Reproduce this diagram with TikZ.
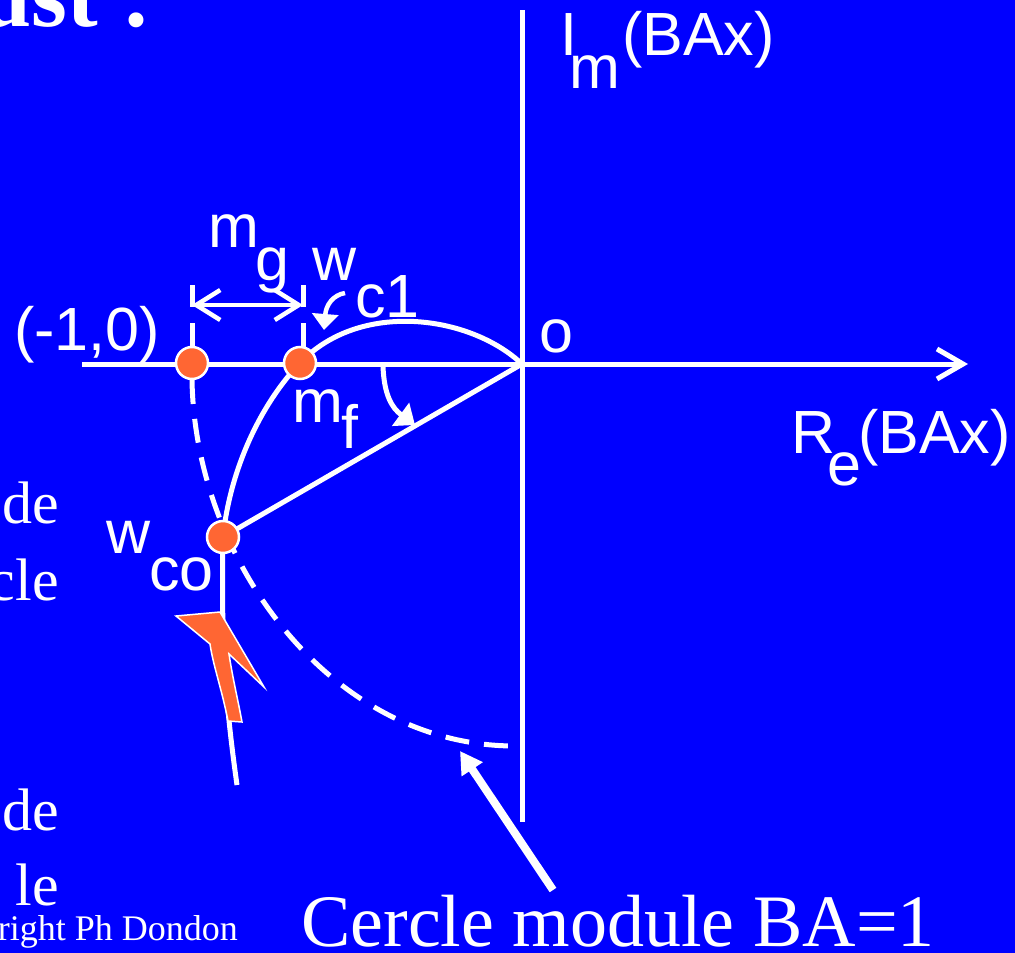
\documentclass[tikz,border=0pt]{standalone}
\usepackage{fontspec}
\setmainfont{Liberation Serif}
\newfontfamily\arial{Liberation Sans}
\usetikzlibrary{arrows.meta}
\definecolor{bg}{RGB}{0,0,255}
\definecolor{dotc}{RGB}{255,102,51}
\begin{document}
\begin{tikzpicture}[x=1pt,y=-1pt,
  wl/.style={white,line width=5pt},
  lbl/.style={inner sep=0,anchor=base west,text=white,font=\arial\fontsize{61}{63}\selectfont},
  ser/.style={inner sep=0,text=white,font=\fontsize{60}{62}\selectfont},
  dotn/.style={circle,fill=dotc,draw=white,line width=2.5pt,minimum size=32pt,inner sep=0},
  dashc/.style={white,line width=5pt,dash pattern=on 24pt off 15pt}]
\useasboundingbox (0,0) rectangle (1015,953);
\fill[bg] (0,0) rectangle (1015,953);

% coordinates
\coordinate (O) at (522,364);
\coordinate (xl) at (82,364);
\coordinate (xr) at (968,364);
\coordinate (yt) at (522,10);
\coordinate (yb) at (522,822);

% axes
\draw[wl] (yt) -- (yb);
\draw[wl,-{Straight Barb[length=26pt,width=30pt,line width=5pt]}] (xl) -- (xr);

% dashed unit circle
\draw[dashc] (192,380) .. controls (195,560) and (330,746) .. (515,746);

% Nyquist curve
\draw[wl] (O) .. controls (470,315) and (360,300) .. (300,363)
   .. controls (260,405) and (230,470) .. (223,537)
   .. controls (221,640) and (225,700) .. (237,785);

% line origin to wco
\draw[wl] (O) -- (223,537);

% ticks
\draw[wl] (192,285) -- (192,307);
\draw[wl] (192,323) -- (192,347);
\draw[wl] (303,285) -- (303,307);
\draw[wl] (303,323) -- (303,347);
% mg dimension
\coordinate (mgL) at (192,305);
\coordinate (mgR) at (303,305);
\draw[white,line width=4.5pt,{Straight Barb[length=24pt,width=30pt,line width=4.5pt]}-{Straight Barb[length=24pt,width=30pt,line width=4.5pt]}] (mgL) -- (mgR);

% mf angle arrow
\draw[white,line width=5pt,-{Triangle[length=18pt,width=28pt]}] (383,366) .. controls (384,395) and (392,408) .. (415,425);

% c1 arrow
\draw[white,line width=4.5pt,-{Triangle[length=16pt,width=26pt]}] (345,293) .. controls (333,295) and (326,305) .. (324,330);

% pointer arrow to circle
\coordinate (pS) at (553,890);
\coordinate (pE) at (460,751);
\draw[white,line width=8pt,-{Triangle[length=22pt,width=24pt]}] (pS) -- (pE);

% orange arrow
\filldraw[fill=dotc,draw=white,line width=1.5pt] (220,612) -- (264,687) -- (229,654)
  .. controls (233,680) and (238,700) .. (242,722) -- (228,721)
  .. controls (222,690) and (213,665) .. (210,644) -- (176,616) -- cycle;

% dots
\node[dotn] (m1) at (192,363) {};
\node[dotn] (m2) at (300,363) {};
\node[dotn] (wco) at (223,537) {};

% labels
\node[lbl] (Im1) at (560,55) {I};
\node[lbl] (Im2) at (569,88) {m};
\node[lbl] (Im3) at (622,55) {(BAx)};
\node[lbl] (Re1) at (791,453) {R};
\node[lbl] (Re2) at (827,485) {e};
\node[lbl] (Re3) at (858,453) {(BAx)};
\node[lbl] (o) at (539,352) {o};
\node[lbl] (m10) at (14,350) {(-1,0)};
\node[lbl] (mg1) at (208,247) {m};
\node[lbl] (mg2) at (255,280) {g};
\node[lbl] (wc1) at (312,280) {w};
\node[lbl] (wc2) at (355,317) {c1};
\node[lbl] (mf1) at (292,422) {m};
\node[lbl] (mf2) at (341,448) {f};
\node[lbl] (wco1) at (106,553) {w};
\node[lbl] (wco2) at (149,590) {co};

% serif texts at left edge
\node[ser,anchor=base east] (t1) at (59,523) {de};
\node[ser,anchor=base east] (t2) at (59,600) {cle};
\node[ser,anchor=base east] (t3) at (59,830) {de};
\node[ser,anchor=base east] (t4) at (59,905) {le};
\node[inner sep=0,text=white,anchor=base east,font=\fontsize{36}{38}\selectfont] (copy) at (238,940) {right Ph Dondon};
\node[inner sep=0,text=white,anchor=base east,font=\bfseries\fontsize{92}{94}\selectfont] (title) at (152,27) {ust :};
\node[inner sep=0,text=white,anchor=base west,font=\fontsize{74}{76}\selectfont] (cercle) at (301,946) {Cercle module BA=1};
\end{tikzpicture}
\end{document}
